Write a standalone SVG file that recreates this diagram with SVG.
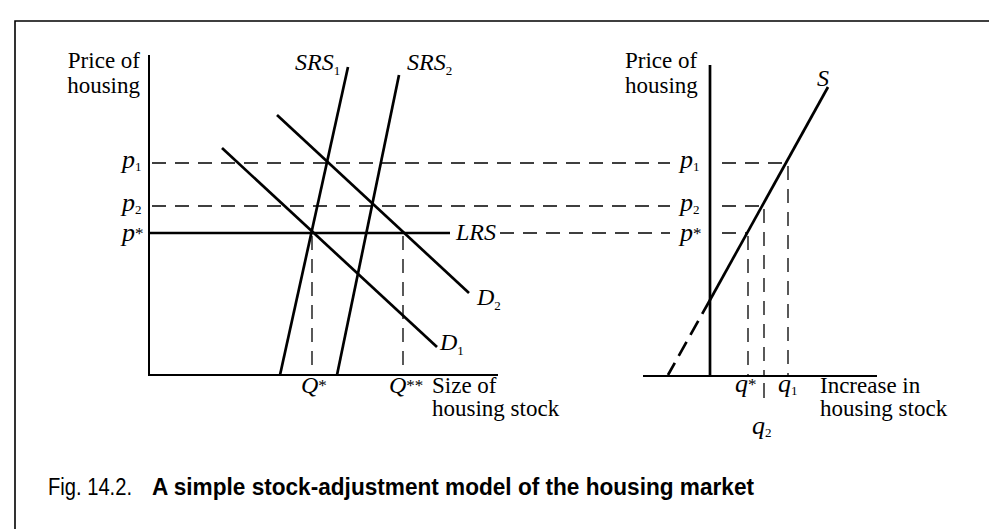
<svg xmlns="http://www.w3.org/2000/svg" width="989" height="529" viewBox="0 0 989 529">
<style>
.ax{stroke:#000;stroke-width:2;fill:none}
.cv{stroke:#000;stroke-width:2.7;fill:none;stroke-linecap:butt}
.ds{stroke:#000;stroke-width:1.3;fill:none;stroke-dasharray:14 9}
.t{font-family:"Liberation Serif",serif;font-size:23px;fill:#000}
.i{font-family:"Liberation Serif",serif;font-size:24px;font-style:italic;fill:#000}
.p{font-size:26px}
.sub{font-size:13px;font-style:normal}
.st{font-size:17px;font-style:normal}
.cap{font-family:"Liberation Sans",Arial,sans-serif;font-size:23px;fill:#000}
</style>
<rect width="989" height="529" fill="#fff"/>
<g id="frame"><path d="M15 529 V21 H989" stroke="#000" stroke-width="1.6" fill="none"/></g>
<g id="left-axes">
<path class="ax" d="M149 55 V375 H498"/>
<text class="t" x="140" y="68" text-anchor="end">Price of</text>
<text class="t" x="140" y="93" text-anchor="end">housing</text>
<text class="t" x="432" y="393">Size of</text>
<text class="t" x="432" y="416">housing stock</text>
</g>
<g id="connectors">
<path class="ds" d="M152 163 H670"/>
<path class="ds" d="M152 206 H670"/>
<path class="ds" d="M500 233 H670"/>
<path class="ds" d="M312 236 V375"/>
<path class="ds" d="M403 236 V375"/>
<path class="ds" d="M722 163 H788"/>
<path class="ds" d="M722 206 H764"/>
<path class="ds" d="M722 233 H748"/>
<path class="ds" d="M748 236 V375"/>
<path class="ds" d="M764 209 V375"/>
<path class="ds" d="M788 166 V375"/>
<path d="M764 383 V398" stroke="#000" stroke-width="1.3"/>
</g>
<g id="LRS">
<path class="cv" d="M149 233 H450"/>
<text class="i" x="456" y="240" font-size="25">LRS</text>
</g>
<g id="SRS1">
<path class="cv" d="M348 67 L280 375"/>
<text class="i" x="295" y="70">SRS<tspan class="sub" dy="5">1</tspan></text>
</g>
<g id="SRS2">
<path class="cv" d="M399 75 L337 375"/>
<text class="i" x="407" y="70">SRS<tspan class="sub" dy="5">2</tspan></text>
</g>
<g id="D1">
<path class="cv" d="M222 148 L437 347"/>
<text class="i" x="440" y="350">D<tspan class="sub" dy="5">1</tspan></text>
</g>
<g id="D2">
<path class="cv" d="M277 115 L469 293"/>
<text class="i" x="477" y="305">D<tspan class="sub" dy="5">2</tspan></text>
</g>
<g id="left-labels">
<text class="i p" x="122" y="168">p<tspan class="sub" dy="3">1</tspan></text>
<text class="i p" x="122" y="211">p<tspan class="sub" dy="3">2</tspan></text>
<text class="i p" x="122" y="241">p<tspan class="st" dy="-2">*</tspan></text>
<text class="i" x="301" y="393">Q<tspan class="st" dy="-2">*</tspan></text>
<text class="i" x="389" y="393">Q<tspan class="st" dy="-2">**</tspan></text>
</g>
<g id="right-axes">
<path d="M710 65 V376" stroke="#000" stroke-width="2.7"/>
<path class="ax" d="M643 376 H877"/>
<text class="t" x="625" y="68">Price of</text>
<text class="t" x="625" y="93">housing</text>
<text class="t" x="820" y="393">Increase in</text>
<text class="t" x="820" y="416">housing stock</text>
</g>
<g id="S">
<path class="cv" d="M828 87 L710 300"/>
<path class="cv" d="M710 300 L668 375" stroke-dasharray="16 8"/>
<text class="i" x="817" y="86">S</text>
</g>
<g id="right-labels">
<text class="i p" x="680" y="168">p<tspan class="sub" dy="3">1</tspan></text>
<text class="i p" x="680" y="211">p<tspan class="sub" dy="3">2</tspan></text>
<text class="i p" x="680" y="241">p<tspan class="st" dy="-2">*</tspan></text>
<text class="i p" x="735" y="392">q<tspan class="st" dy="-2">*</tspan></text>
<text class="i p" x="778" y="392">q<tspan class="sub" dy="3">1</tspan></text>
<text class="i p" x="752" y="434">q<tspan class="sub" dy="3">2</tspan></text>
</g>
<g id="caption">
<text class="cap" x="48" y="495"><tspan textLength="84" lengthAdjust="spacingAndGlyphs">Fig. 14.2.</tspan><tspan x="152" font-weight="bold" textLength="602" lengthAdjust="spacingAndGlyphs">A simple stock-adjustment model of the housing market</tspan></text>
</g>
</svg>
